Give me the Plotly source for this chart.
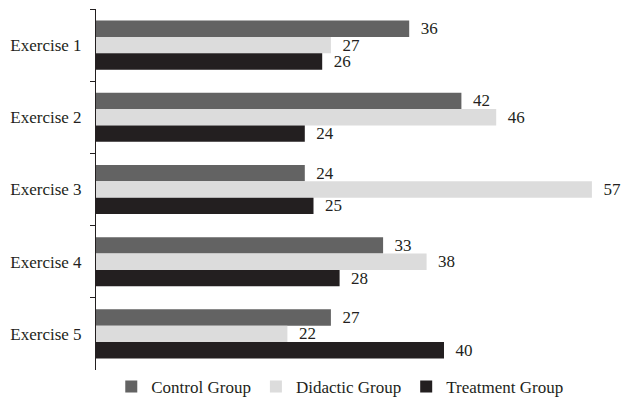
import plotly.graph_objects as go

categories = ["Exercise 1", "Exercise 2", "Exercise 3", "Exercise 4", "Exercise 5"]
control = [36, 42, 24, 33, 27]
didactic = [27, 46, 57, 38, 22]
treatment = [26, 24, 25, 28, 40]
series_names = ["Control Group", "Didactic Group", "Treatment Group"]
colors = ["#636363", "#dcdcdc", "#231f20"]

FONT = "Liberation Serif"
fig = go.Figure()
for name, vals, col in zip(series_names, [control, didactic, treatment], colors):
    fig.add_trace(go.Bar(
        y=categories, x=vals, name=name, orientation="h",
        marker=dict(color=col, line=dict(width=0)),
        text=["  " + str(v) for v in vals], textposition="outside",
        textfont=dict(family=FONT, size=17, color="#231f20"),
        cliponaxis=False, constraintext="none",
    ))

fig.update_layout(
    width=622, height=398,
    margin=dict(l=96, r=4, t=9, b=28, autoexpand=False),
    barmode="group", bargap=0.32, bargroupgap=0,
    plot_bgcolor="white", paper_bgcolor="white",
    font=dict(family=FONT, size=17, color="#231f20"),
    showlegend=True,
    legend=dict(orientation="h", x=0.467, xanchor="center", y=0.028, yanchor="middle",
                yref="container", tracegroupgap=0,
                font=dict(family=FONT, size=17, color="#231f20"),
                traceorder="normal", itemwidth=30),
    xaxis=dict(range=[0, 60], visible=False, showgrid=False, zeroline=False),
    yaxis=dict(autorange="reversed", showline=True, linecolor="#231f20", linewidth=1,
               ticks="outside", ticklen=5, tickcolor="#231f20", tickson="boundaries",
               showgrid=False, ticklabelstandoff=10,
               tickfont=dict(family=FONT, size=17, color="#231f20")),
)
fig.write_html("out.html")
